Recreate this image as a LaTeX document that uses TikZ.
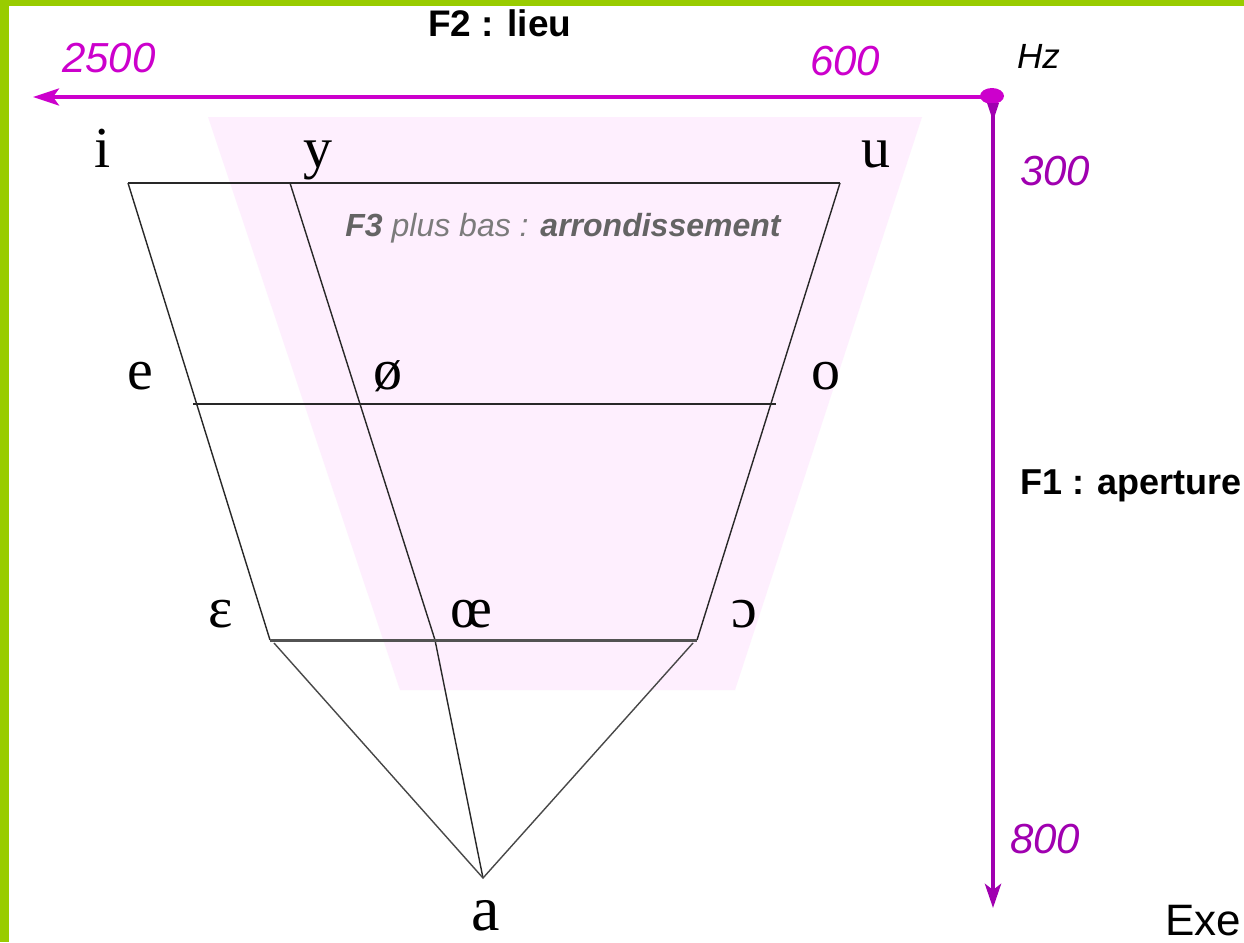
\documentclass[tikz,border=0pt]{standalone}
\usepackage{fontspec}
\setmainfont{Liberation Serif}
\newfontfamily\arial{Liberation Sans}
\usetikzlibrary{arrows.meta}
\definecolor{frame}{RGB}{153,204,0}
\definecolor{pinkzone}{RGB}{254,239,254}
\definecolor{magaxis}{RGB}{204,0,204}
\definecolor{puraxis}{RGB}{160,0,176}
\definecolor{chart}{RGB}{40,40,40}
\definecolor{txtgray}{RGB}{100,100,100}
\tikzset{
  vowel/.style={anchor=base, inner sep=0pt, font=\fontsize{58}{60}\selectfont},
  axislab/.style={anchor=base west, inner sep=0pt, font=\arial\itshape\fontsize{42}{44}\selectfont},
  title/.style={anchor=base west, inner sep=0pt, font=\arial\bfseries\fontsize{37}{40}\selectfont},
  chartline/.style={draw=chart, line width=1.4pt},
}
\begin{document}
\begin{tikzpicture}[x=1pt,y=-1pt]
\useasboundingbox (0,0) rectangle (1244,942);
\clip (0,0) rectangle (1244,942);
\fill[white] (0,0) rectangle (1244,942);
% green frame
\fill[frame] (0,0) rectangle (9,942);
\fill[frame] (0,0) rectangle (1244,6);
% pink zone
\fill[pinkzone] (208,117) -- (922,117) -- (735,690) -- (400,690) -- cycle;
% chart vertices
\coordinate (I) at (128,183);
\coordinate (Y) at (290,183);
\coordinate (U) at (840,183);
\coordinate (E) at (193,404);
\coordinate (OEm) at (360,404);
\coordinate (O) at (776,404);
\coordinate (EPS) at (270,640);
\coordinate (OEh) at (435,640);
\coordinate (OO) at (697,640);
\coordinate (EPSb) at (274,643);
\coordinate (OOb) at (693,643);
\coordinate (A) at (483,878);
\draw[chartline] (I) -- (U);
\draw[chartline] (I) -- (EPS);
\draw[chartline] (U) -- (OO);
\draw[chartline] (Y) -- (OEm) -- (OEh) -- (A);
\draw[chartline] (E) -- (O);
\draw[draw=chart!80, line width=3pt] (EPS) -- (OO);
\draw[chartline, draw=chart!85] (EPSb) -- (A) -- (OOb);
% vowel labels
\node[vowel] (li) at (103,167) {i};
\node[vowel] (ly) at (318,167) {y};
\node[vowel] (lu) at (876,167) {u};
\node[vowel] (le) at (140,389) {e};
\node[vowel] (lo2) at (388,389) {ø};
\node[vowel] (lo) at (826,389) {o};
\node[vowel] (leps) at (221,627) {ɛ};
\node[vowel] (loe) at (471,627) {œ};
\node[vowel] (loo) at (744,627) {ɔ};
\node[vowel, font=\fontsize{64}{66}\selectfont] (la) at (486,930) {a};
% F3 text
\node[anchor=base, inner sep=0pt, font=\arial\itshape\fontsize{32}{34}\selectfont, text=txtgray] (f3) at (563,236)
  {\textbf{F3} {\color{txtgray!85}plus bas :} \textbf{arrondissement}};
% axes
\coordinate (H0) at (992,97);
\coordinate (H1) at (33,97);
\coordinate (V0) at (993,100);
\coordinate (V1) at (993,908);
\draw[magaxis, line width=4pt, -{Stealth[length=26pt,width=17pt,inset=6pt]}] (H0) -- (H1);
\draw[puraxis, line width=4.5pt, -{Stealth[length=24pt,width=16pt,inset=6pt]}] (V0) -- (V1);
\fill[magaxis] (992,96) ellipse [x radius=12, y radius=8];
\fill[puraxis] (987,103) -- (999,103) -- (995,115) -- (991,115) -- cycle;
% axis labels
\node[axislab, text=magaxis] (n2500) at (62,73) {2500};
\node[axislab, text=magaxis] (n600) at (810,75) {600};
\node[axislab, text=puraxis] (n300) at (1020,185) {300};
\node[axislab, text=puraxis] (n800) at (1010,853) {800};
\node[anchor=base west, inner sep=0pt, font=\arial\itshape\fontsize{35}{38}\selectfont] (hz) at (1017,68) {Hz};
\node[title] (f2) at (428,37) {F2 : lieu};
\node[title, font=\arial\bfseries\fontsize{36}{38}\selectfont] (f1) at (1020,494) {F1 : aperture};
\node[anchor=base west, inner sep=0pt, font=\arial\fontsize{44}{46}\selectfont] (exe) at (1165,935) {Exe};
\end{tikzpicture}
\end{document}
